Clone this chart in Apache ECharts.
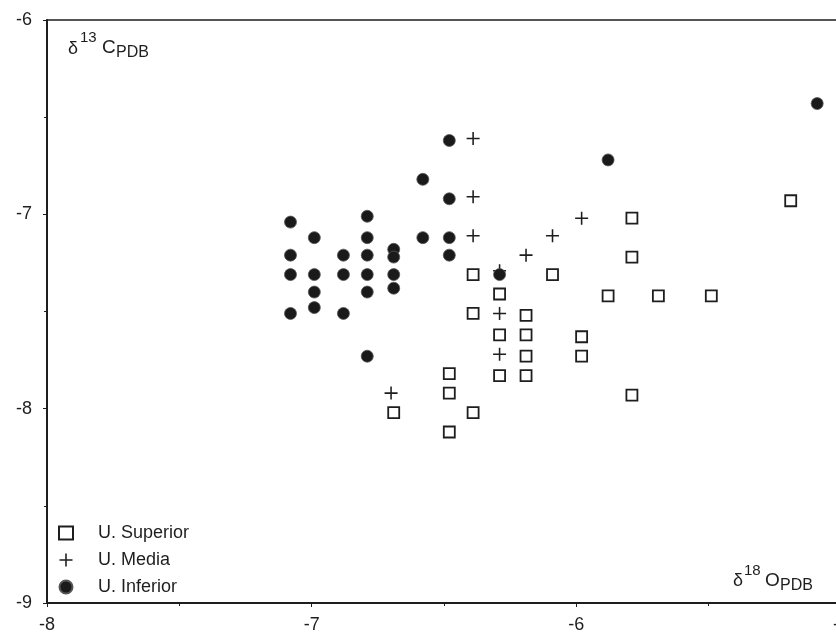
<!DOCTYPE html>
<html>
<head>
<meta charset="utf-8">
<script src="https://cdn.jsdelivr.net/npm/echarts@6/dist/echarts.min.js"></script>
<style>html,body{margin:0;padding:0;background:#fff}#c{width:836px;height:641px}</style>
</head>
<body>
<div id="c"></div>
<script>
// δ18O (x), δ13C (y)
var seriesNames = ['U. Superior', 'U. Media', 'U. Inferior'];
var superior = [
  [-6.39,-7.31],[-6.09,-7.31],[-6.29,-7.41],[-6.39,-7.51],[-6.19,-7.52],[-6.29,-7.62],[-6.19,-7.62],
  [-6.19,-7.73],[-6.29,-7.83],[-6.19,-7.83],[-6.48,-7.82],[-6.48,-7.92],[-6.69,-8.02],[-6.39,-8.02],
  [-6.48,-8.12],[-5.19,-6.93],[-5.79,-7.02],[-5.79,-7.22],[-5.88,-7.42],[-5.69,-7.42],[-5.49,-7.42],
  [-5.98,-7.63],[-5.98,-7.73],[-5.79,-7.93]
];
var media = [
  [-6.39,-6.61],[-6.39,-6.91],[-6.39,-7.11],[-6.09,-7.11],[-6.19,-7.21],[-5.98,-7.02],
  [-6.29,-7.51],[-6.29,-7.72],[-6.70,-7.92],[-6.29,-7.29]
];
var inferior = [
  [-6.48,-6.62],[-6.58,-6.82],[-6.48,-6.92],[-7.08,-7.04],[-6.79,-7.01],[-6.99,-7.12],[-6.79,-7.12],
  [-6.58,-7.12],[-6.48,-7.12],[-7.08,-7.21],[-6.88,-7.21],[-6.79,-7.21],[-6.69,-7.18],[-6.69,-7.22],
  [-6.48,-7.21],[-7.08,-7.31],[-6.99,-7.31],[-6.88,-7.31],[-6.79,-7.31],[-6.69,-7.31],[-6.29,-7.31],
  [-6.99,-7.40],[-6.79,-7.40],[-6.69,-7.38],[-6.99,-7.48],[-7.08,-7.51],[-6.88,-7.51],[-6.79,-7.73],
  [-5.09,-6.43],[-5.88,-6.72]
];
var xTicks = [-8, -7, -6, -5];
var yTicks = [-9, -8, -7, -6];

var plusPath = 'path://M4.4,0H5.6V4.4H10V5.6H5.6V10H4.4V5.6H0V4.4H4.4Z';
var chart = echarts.init(document.getElementById('c'));
var ink = '#1e1e1e';
var fam = 'Liberation Sans, Arial';
chart.setOption({
  animation: false,
  backgroundColor: '#fff',
  grid: { left: 47, right: -5, top: 20, bottom: 38, outerBoundsMode: 'none', containLabel: false,
    show: true, borderColor: ink, borderWidth: 1.6 },
  xAxis: {
    type: 'value', min: xTicks[0], max: xTicks[xTicks.length-1], interval: 1,
    axisLine: { lineStyle: { color: ink, width: 2 } },
    axisTick: { show: true, length: 4, lineStyle: { color: ink } },
    minorTick: { show: true, splitNumber: 2, length: 3, lineStyle: { color: ink } },
    splitLine: { show: false },
    axisLabel: { color: ink, fontSize: 18, fontFamily: fam, margin: 13,
      formatter: function (v) { return xTicks.indexOf(v) >= 0 ? String(v) : ''; } }
  },
  yAxis: {
    type: 'value', min: yTicks[0], max: yTicks[yTicks.length-1], interval: 1,
    axisLine: { lineStyle: { color: ink, width: 2 } },
    axisTick: { show: true, length: 4, lineStyle: { color: ink } },
    minorTick: { show: true, splitNumber: 2, length: 3, lineStyle: { color: ink } },
    splitLine: { show: false },
    axisLabel: { color: ink, fontSize: 18, fontFamily: fam, margin: 15,
      formatter: function (v) { return yTicks.indexOf(v) >= 0 ? String(v) : ''; } }
  },
  legend: {
    orient: 'vertical', left: 53, top: 519, itemGap: 9, itemWidth: 14, itemHeight: 13,
    data: seriesNames,
    textStyle: { color: ink, fontSize: 18, fontFamily: fam, padding: [0,0,0,20], lineHeight: 18 }
  },
  series: [
    { name: seriesNames[0], type: 'scatter', data: superior, symbol: 'rect', symbolSize: 11,
      itemStyle: { color: '#fff', borderColor: ink, borderWidth: 1.8, opacity: 1 }, z: 3 },
    { name: seriesNames[1], type: 'scatter', data: media, symbol: plusPath, symbolSize: 13,
      itemStyle: { color: ink, opacity: 1 }, z: 2 },
    { name: seriesNames[2], type: 'scatter', data: inferior, symbol: 'circle', symbolSize: 12,
      itemStyle: { color: '#1a1a1a', borderColor: '#555', borderWidth: 0.8, opacity: 1 }, z: 4 }
  ],
  graphic: [
    { type: 'text', left: 68, top: 40, style: { text: 'δ', font: '18px Liberation Sans', fill: ink } },
    { type: 'text', left: 80, top: 30, style: { text: '13', font: '15px Liberation Sans', fill: ink } },
    { type: 'text', left: 102, top: 38, style: { text: 'C', font: '19px Liberation Sans', fill: ink } },
    { type: 'text', left: 116, top: 45, style: { text: 'PDB', font: '16px Liberation Sans', fill: ink } },
    { type: 'text', left: 733, top: 572, style: { text: 'δ', font: '18px Liberation Sans', fill: ink } },
    { type: 'text', left: 744, top: 563, style: { text: '18', font: '15px Liberation Sans', fill: ink } },
    { type: 'text', left: 765, top: 571, style: { text: 'O', font: '19px Liberation Sans', fill: ink } },
    { type: 'text', left: 780, top: 578, style: { text: 'PDB', font: '16px Liberation Sans', fill: ink } }
  ]
});
</script>
</body>
</html>
